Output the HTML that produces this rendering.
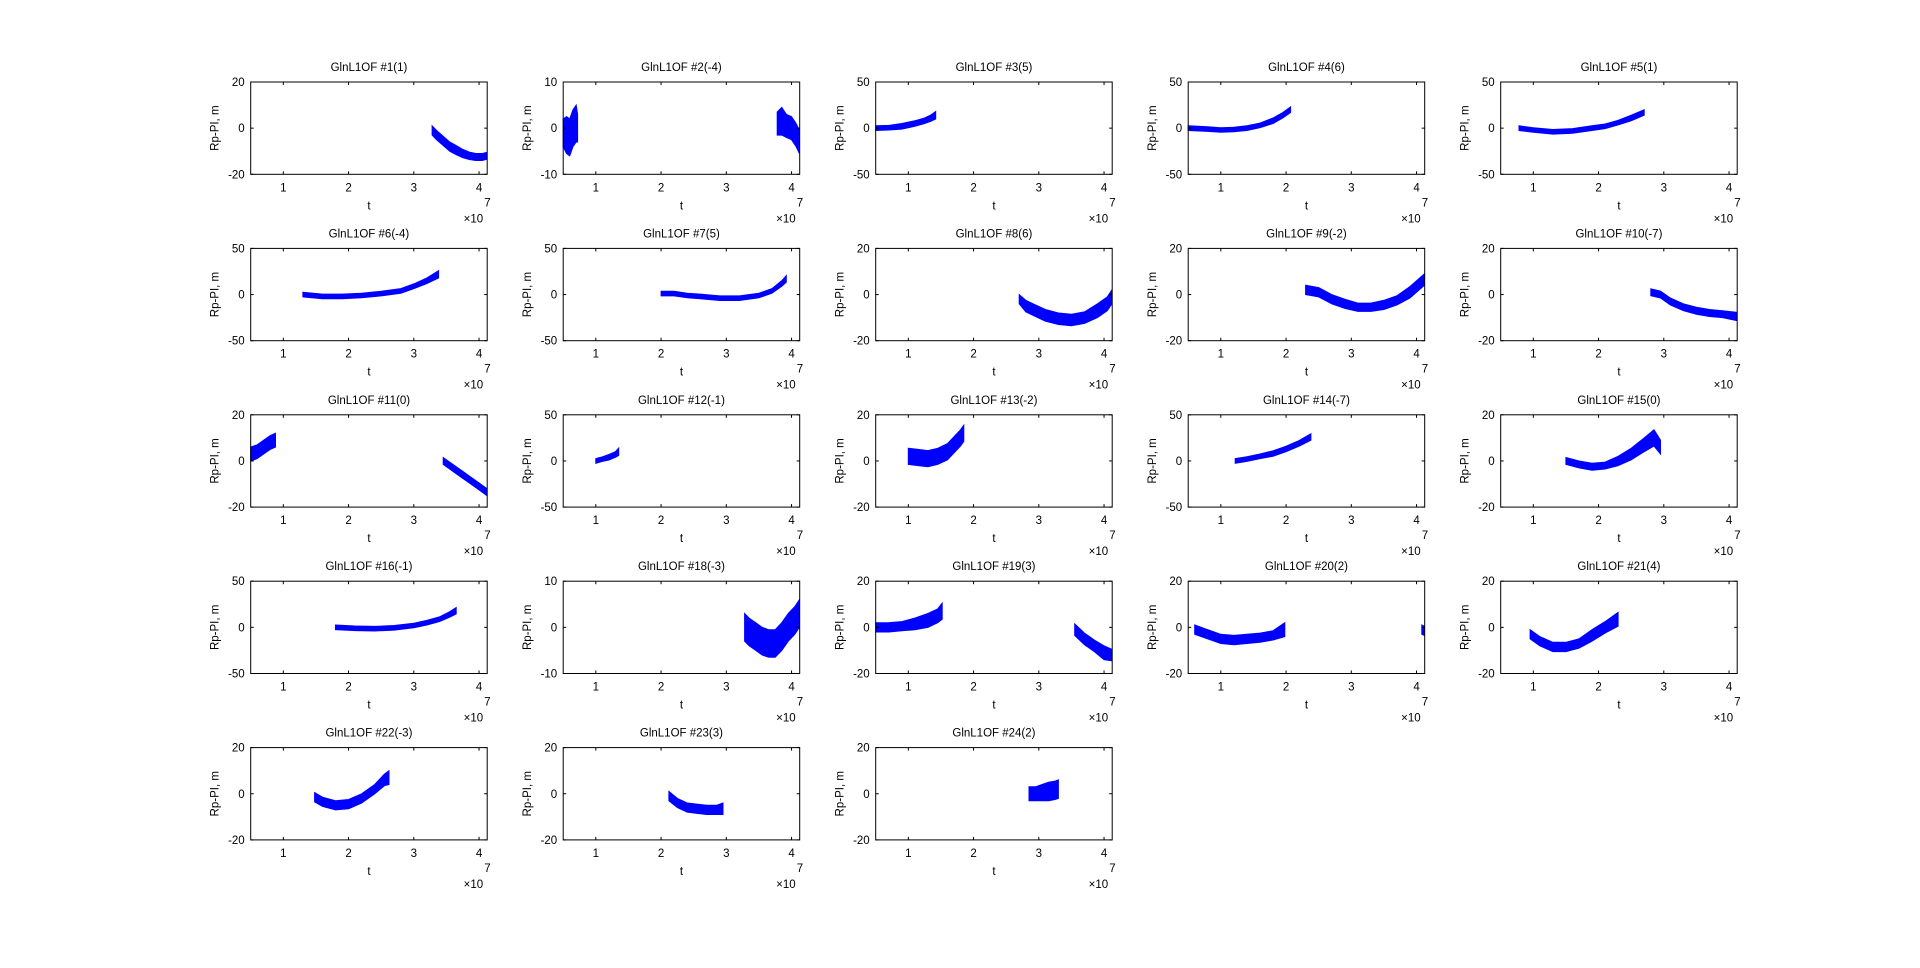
<!DOCTYPE html>
<html><head><meta charset="utf-8"><style>
html,body{margin:0;padding:0;background:#fff;}
svg text{font-family:"Liberation Sans",sans-serif;font-size:11.5px;fill:#000;}
</style></head><body>
<svg id="fig" width="1920" height="963" viewBox="0 0 1920 963" xmlns="http://www.w3.org/2000/svg"></svg>
<script>
// values in units of 1e7 for t; y in metres; w = noise half-width
const p1_t=[3.28,3.35,3.45,3.55,3.65,3.75,3.85,3.95,4.05,4.12], p1_y=[-1,-3,-5.5,-8,-9.5,-11,-12,-12.5,-12.5,-12], p1_w=[2,2,2,2,2,1.8,1.6,1.5,1.5,1.5];
const p2a_t=[0.5,0.55,0.6,0.65,0.7,0.72], p2a_y=[-1,-1.5,-2,0,1,0], p2a_w=[3,4,4,4,4,3];
const p2b_t=[3.78,3.85,3.92,4.0,4.07,4.12], p2b_y=[1,1.5,0.5,0,-1.5,-3], p2b_w=[2.5,3,2.5,2.5,2.5,2.5];
const p3_t=[0.5,0.7,0.9,1.1,1.25,1.35,1.42], p3_y=[0,0.5,2,5,8,11,14], p3_w=[2.5,2.5,3,3,3,3.5,4];
const p4_t=[0.5,0.8,1.0,1.2,1.4,1.6,1.8,1.95,2.07], p4_y=[0,-1,-2,-1.5,0,3,8,14,20], p4_w=[2.5,2.5,2.5,2.5,2.5,2.5,3,3,3];
const p5_t=[0.78,1.0,1.3,1.6,1.9,2.1,2.3,2.5,2.7], p5_y=[0,-2,-4,-3,0,2,6,11,17], p5_w=[2.5,2.5,2.5,2.5,2.5,2.5,2.5,3,3];
const p6_t=[1.3,1.6,1.9,2.2,2.5,2.8,3.0,3.2,3.38], p6_y=[0,-2,-2,-1,1,4,9,15,22], p6_w=[2.5,2.5,2.5,2.5,2.5,2.5,2.5,3,4];
const p7_t=[2.0,2.2,2.4,2.6,2.9,3.2,3.5,3.7,3.85,3.92], p7_y=[1,1,-1,-2,-4,-4,-1,4,12,17], p7_w=[2.5,2.5,2.5,2.5,2.5,2.5,2.5,2.5,3,3.5];
const p8_t=[2.7,2.8,2.95,3.1,3.3,3.5,3.7,3.9,4.05,4.12], p8_y=[-2,-5,-7,-9,-10.5,-11,-10,-7,-4,-1], p8_w=[2,2.5,2.5,2.5,2.5,2.5,2.5,3,3,3];
const p9_t=[2.3,2.5,2.7,2.9,3.1,3.3,3.5,3.7,3.9,4.12], p9_y=[2,1,-2,-4,-5.5,-5.5,-4.5,-2.5,1,6.5], p9_w=[2,2,2,2,1.8,1.8,2,2,2.5,2.5];
const p10_t=[2.8,2.95,3.1,3.3,3.5,3.7,3.9,4.12], p10_y=[1,0,-3,-5.5,-7,-8,-8.5,-9.5], p10_w=[1.5,1.5,1.5,1.5,1.5,1.5,1.5,1.8];
const p11a_t=[0.5,0.6,0.7,0.8,0.88], p11a_y=[3,4,6,8,9], p11a_w=[3,3,3,3,3];
const p11b_t=[3.45,3.6,3.75,3.9,4.0,4.12], p11b_y=[0,-3,-6,-9,-11,-13.5], p11b_w=[1.5,1.5,1.5,1.5,1.5,1.5];
const p12_t=[1.0,1.1,1.2,1.3,1.35], p12_y=[0,2,4,7,10], p12_w=[2.5,2.5,3,3,4];
const p13_t=[1.0,1.15,1.3,1.45,1.6,1.7,1.8,1.85], p13_y=[2,1.5,1,2,4,7,10,12], p13_w=[3.5,3.5,3.5,3.5,3.5,3.5,3.5,3.5];
const p14_t=[1.22,1.4,1.6,1.8,2.0,2.2,2.38], p14_y=[0,2,5,8,13,19,26], p14_w=[2.5,2.5,2.5,3,3,3,3.5];
const p15_t=[1.5,1.7,1.9,2.1,2.3,2.5,2.7,2.85,2.95], p15_y=[0,-1.5,-2.5,-2,0,3,7,10,6], p15_w=[1.5,1.5,1.5,1.5,2,2.5,3,3.5,3];
const p16_t=[1.8,2.1,2.4,2.7,3.0,3.2,3.4,3.55,3.65], p16_y=[0,-1,-1.5,-0.5,2,5,9,14,18], p16_w=[2.5,2.5,2.5,2.5,2.5,2.5,2.5,3,3.5];
const p18_t=[3.28,3.35,3.45,3.55,3.65,3.75,3.85,3.95,4.05,4.12], p18_y=[0,-1,-2,-3,-3.5,-3.5,-2,0,1.5,3], p18_w=[3,3,3,3,3,3,3,3,3,3];
const p19a_t=[0.5,0.7,0.9,1.1,1.3,1.45,1.52], p19a_y=[0,0,0.5,1.5,3,5,7], p19a_w=[2,2,2,2.5,3,3,3.5];
const p19b_t=[3.55,3.7,3.85,4.0,4.12], p19b_y=[-1,-5,-8,-11,-12], p19b_w=[2.5,2.5,2.5,3,2.5];
const p20a_t=[0.6,0.8,1.0,1.2,1.4,1.6,1.8,1.98], p20a_y=[-1,-3,-5,-5.5,-5,-4.5,-3.5,-1], p20a_w=[2,2,2,2,2,2,2,3];
const p20b_t=[4.08,4.12], p20b_y=[-1,-1.5], p20b_w=[2,2];
const p21_t=[0.95,1.1,1.3,1.5,1.7,1.9,2.1,2.3], p21_y=[-3,-6,-8.5,-8.5,-7,-3.5,0,3.5], p21_w=[2,2,2,2,2,2.5,2.5,3];
const p22_t=[1.48,1.6,1.8,2.0,2.2,2.4,2.55,2.62], p22_y=[-1.5,-3.5,-5,-4.5,-2,2,6,7], p22_w=[2,2,2,2,2,2,2.5,3];
const p23_t=[2.12,2.25,2.4,2.55,2.7,2.85,2.95], p23_y=[-1,-4,-6,-6.5,-7,-7,-6.5], p23_w=[2,2,2,2,2,2,2.5];
const p24_t=[2.85,2.95,3.05,3.15,3.25,3.3], p24_y=[0,0,0.5,1,1.5,2], p24_w=[3,3,3.5,4,4,4];
const titles=["GlnL1OF #1(1)","GlnL1OF #2(-4)","GlnL1OF #3(5)","GlnL1OF #4(6)","GlnL1OF #5(1)","GlnL1OF #6(-4)","GlnL1OF #7(5)","GlnL1OF #8(6)","GlnL1OF #9(-2)","GlnL1OF #10(-7)","GlnL1OF #11(0)","GlnL1OF #12(-1)","GlnL1OF #13(-2)","GlnL1OF #14(-7)","GlnL1OF #15(0)","GlnL1OF #16(-1)","GlnL1OF #18(-3)","GlnL1OF #19(3)","GlnL1OF #20(2)","GlnL1OF #21(4)","GlnL1OF #22(-3)","GlnL1OF #23(3)","GlnL1OF #24(2)"];
const ylims=[20,10,50,50,50,50,50,20,20,20,20,50,20,50,20,50,10,20,20,20,20,20,20];
const xTicks=[1,2,3,4];
const series=[
 [[p1_t,p1_y,p1_w]],[[p2a_t,p2a_y,p2a_w],[p2b_t,p2b_y,p2b_w]],[[p3_t,p3_y,p3_w]],[[p4_t,p4_y,p4_w]],[[p5_t,p5_y,p5_w]],
 [[p6_t,p6_y,p6_w]],[[p7_t,p7_y,p7_w]],[[p8_t,p8_y,p8_w]],[[p9_t,p9_y,p9_w]],[[p10_t,p10_y,p10_w]],
 [[p11a_t,p11a_y,p11a_w],[p11b_t,p11b_y,p11b_w]],[[p12_t,p12_y,p12_w]],[[p13_t,p13_y,p13_w]],[[p14_t,p14_y,p14_w]],[[p15_t,p15_y,p15_w]],
 [[p16_t,p16_y,p16_w]],[[p18_t,p18_y,p18_w]],[[p19a_t,p19a_y,p19a_w],[p19b_t,p19b_y,p19b_w]],[[p20a_t,p20a_y,p20a_w],[p20b_t,p20b_y,p20b_w]],[[p21_t,p21_y,p21_w]],
 [[p22_t,p22_y,p22_w]],[[p23_t,p23_y,p23_w]],[[p24_t,p24_y,p24_w]]
];
const NS="http://www.w3.org/2000/svg", svg=document.getElementById('fig');
function mk(tag,attrs,parent,txt){const e=document.createElementNS(NS,tag);for(const k in attrs)e.setAttribute(k,attrs[k]);if(txt!==undefined)e.textContent=txt;parent.appendChild(e);return e;}
const X0=250.7,DX=312.5,W=236.5,Y0=82,DY=166.4,H=92.3,XMIN=0.5,XMAX=4.125;
titles.forEach((title,i)=>{
  const r=Math.floor(i/5),c=i%5,L=X0+c*DX,T=Y0+r*DY,B=T+H,R=L+W,lim=ylims[i];
  const sx=v=>L+(v-XMIN)/(XMAX-XMIN)*W, sy=v=>B-(v+lim)/(2*lim)*H;
  const g=mk('g',{},svg);
  
  
  const ttl=mk('text',{x:(L+R)/2,y:T-11,'text-anchor':'middle'},g,title);
  
  
  series[i].forEach(s=>{
    const [t,y,w]=s;
    let up=t.map((v,k)=>sx(v).toFixed(1)+','+sy(y[k]+w[k]).toFixed(1));
    let dn=t.map((v,k)=>sx(v).toFixed(1)+','+sy(y[k]-w[k]).toFixed(1)).reverse();
    const band=mk('polygon',{points:up.concat(dn).join(' '),fill:'#0000ff',stroke:'#0000ff','stroke-width':1},g);
    
    
  });
  const box=mk('rect',{x:L,y:T,width:W,height:H,fill:'none',stroke:'#000','stroke-width':1},g);
  
  
  xTicks.forEach(v=>{
    const x=sx(v);
    mk('line',{x1:x,y1:B,x2:x,y2:B-3,stroke:'#000'},g);
    mk('line',{x1:x,y1:T,x2:x,y2:T+3,stroke:'#000'},g);
    const tl=mk('text',{x:x,y:B+17,'text-anchor':'middle'},g,String(v));
    
    
  });
  [-lim,0,lim].forEach(v=>{
    const y=sy(v);
    mk('line',{x1:L,y1:y,x2:L+3,y2:y,stroke:'#000'},g);
    mk('line',{x1:R,y1:y,x2:R-3,y2:y,stroke:'#000'},g);
    const tl=mk('text',{x:L-6,y:y+4,'text-anchor':'end'},g,String(v));
    
    
  });
  const xl=mk('text',{x:(L+R)/2,y:B+35,'text-anchor':'middle'},g,'t');
  
  
  const ex=mk('text',{x:R-4,y:B+48,'text-anchor':'end'},g,'\u00d710');
  
  
  mk('text',{x:R-3,y:B+32,'font-size':'9'},g,'7');
  const yl=mk('text',{x:0,y:0,'text-anchor':'middle',transform:`translate(${L-32},${(T+B)/2}) rotate(-90)`},g,'Rp-PI, m');
  
  
});
</script>
</body></html>
